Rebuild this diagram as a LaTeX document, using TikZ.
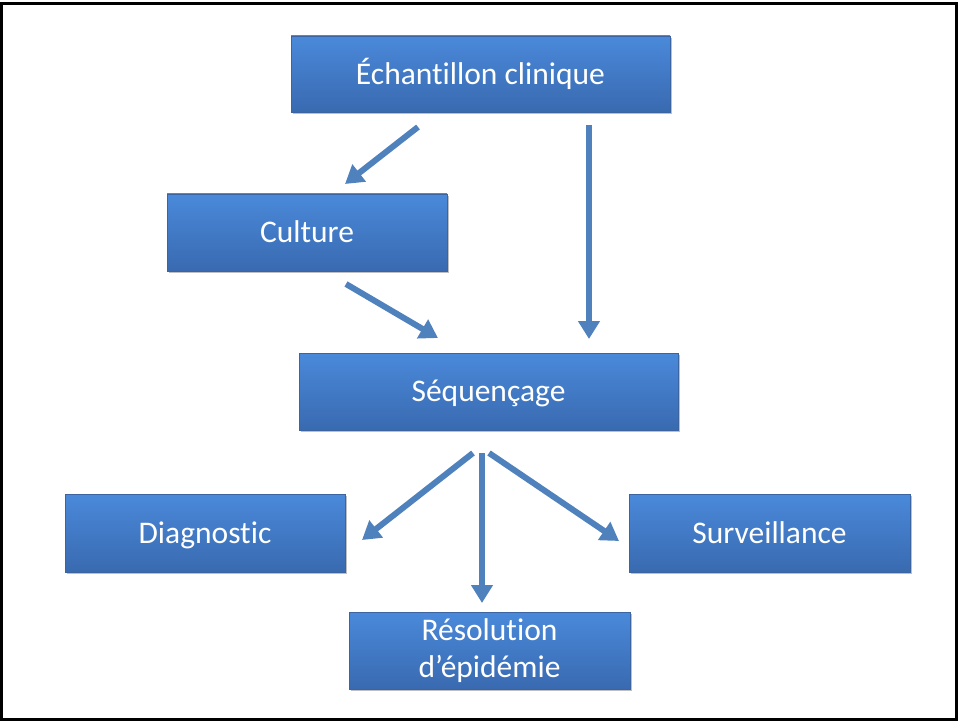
\documentclass[tikz,border=0pt]{standalone}
\usepackage{fontspec}
\setmainfont{Carlito}[Ligatures=NoCommon]
\usetikzlibrary{arrows.meta,shadows}
\definecolor{boxtop}{RGB}{74,137,218}
\definecolor{boxbot}{RGB}{57,106,176}
\definecolor{boxedge}{RGB}{60,100,160}
\definecolor{arrowc}{RGB}{79,129,189}
\tikzset{
  box/.style={rectangle, inner sep=0pt, top color=boxtop, bottom color=boxbot,
    draw=boxedge, line width=0.6pt, text=white, align=center,
    font=\fontsize{31.5}{37}\selectfont,
    drop shadow={shadow xshift=2pt, shadow yshift=-2pt, fill=black, opacity=0.25}},
  oneline/.style={text height=27.5pt, text depth=7pt},
  flow/.style={draw=arrowc, line width=6pt, -{Triangle[length=18pt,width=21pt]}}
}
\begin{document}
\begin{tikzpicture}[x=1pt,y=-1pt]
\useasboundingbox (0,0) rectangle (961,722);
\draw[line width=3pt] (1.5,4) rectangle (956.5,719.5);
\node[box, oneline, minimum width=379pt, minimum height=76pt] (ech) at (480.5,74) {Échantillon clinique};
\node[box, oneline, minimum width=280pt, minimum height=77pt] (cul) at (307,232.5) {Culture};
\node[box, oneline, minimum width=379pt, minimum height=77pt] (seq) at (488.5,391.5) {Séquençage};
\node[box, oneline, minimum width=280pt, minimum height=78pt] (dia) at (205,533) {Diagnostic};
\node[box, oneline, minimum width=281pt, minimum height=78pt] (sur) at (769.5,533) {Surveillance};
\node[box, minimum width=281pt, minimum height=77pt] (res) at (489.5,650.5) {Résolution\\d’épidémie};
\coordinate (a1s) at (418,127);
\coordinate (a1e) at (345,184);
\coordinate (a2s) at (589,125);
\coordinate (a2e) at (589,339);
\coordinate (a3s) at (346,284);
\coordinate (a3e) at (438,338);
\coordinate (a4s) at (473,453);
\coordinate (a4e) at (362,540);
\coordinate (a5s) at (482,453);
\coordinate (a5e) at (482,603);
\coordinate (a6s) at (489,453);
\coordinate (a6e) at (619,541);
\draw[flow] (a1s) -- (a1e);
\draw[flow] (a2s) -- (a2e);
\draw[flow] (a3s) -- (a3e);
\draw[flow] (a4s) -- (a4e);
\draw[flow] (a5s) -- (a5e);
\draw[flow] (a6s) -- (a6e);
\end{tikzpicture}
\end{document}
